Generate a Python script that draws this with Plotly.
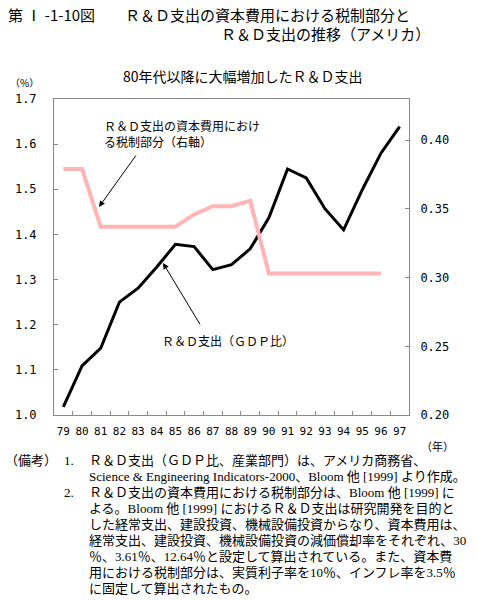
import plotly.graph_objects as go

years = ["79", "80", "81", "82", "83", "84", "85", "86", "87", "88", "89",
         "90", "91", "92", "93", "94", "95", "96", "97"]
rd_gdp = [1.018, 1.109, 1.148, 1.250, 1.281, 1.328, 1.378, 1.373, 1.322, 1.333, 1.368,
          1.437, 1.545, 1.525, 1.457, 1.410, 1.499, 1.580, 1.639]
tax_share = [0.379, 0.379, 0.337, 0.337, 0.337, 0.337, 0.337, 0.346, 0.352, 0.352, 0.356,
             0.303, 0.303, 0.303, 0.303, 0.303, 0.303, 0.303, None]
left_ticks = [1.0, 1.1, 1.2, 1.3, 1.4, 1.5, 1.6, 1.7]
left_labels = ["1.0", "1.1", "1.2", "1.3", "1.4", "1.5", "1.6", "1.7"]
right_ticks = [0.20, 0.25, 0.30, 0.35, 0.40]
right_labels = ["0.20", "0.25", "0.30", "0.35", "0.40"]

title1 = "第 Ⅰ -1-10図　　Ｒ＆Ｄ支出の資本費用における税制部分と"
title2 = "Ｒ＆Ｄ支出の推移（アメリカ）"
subtitle = "80年代以降に大幅増加したＲ＆Ｄ支出"
label_tax = "Ｒ＆Ｄ支出の資本費用におけ<br>る税制部分（右軸）"
label_rd = "Ｒ＆Ｄ支出（ＧＤＰ比）"
notes = [
    "Ｒ＆Ｄ支出（ＧＤＰ比、産業部門）は、アメリカ商務省、",
    "Science & Engineering Indicators-2000、Bloom 他 [1999] より作成。",
    "Ｒ＆Ｄ支出の資本費用における税制部分は、Bloom 他 [1999] に",
    "よる。Bloom 他 [1999] におけるＲ＆Ｄ支出は研究開発を目的と",
    "した経常支出、建設投資、機械設備投資からなり、資本費用は、",
    "経常支出、建設投資、機械設備投資の減価償却率をそれぞれ、30",
    "％、3.61％、12.64％と設定して算出されている。また、資本費",
    "用における税制部分は、実質利子率を10％、インフレ率を3.5％",
    "に固定して算出されたもの。",
]

W, H = 477, 600
L, R, T, B = 54, 409, 99, 415


def px(x):
    return (x - L) / (R - L)


def py(y):
    return (B - y) / (B - T)


GOTH = "Noto Sans CJK JP"
MONO = "DejaVu Sans Mono"
SERIF = "Liberation Serif, Noto Sans CJK JP"

fig = go.Figure()
fig.add_trace(go.Scatter(x=years, y=tax_share, yaxis="y2", mode="lines",
                         line=dict(color="#FFB5B5", width=4), showlegend=False,
                         connectgaps=False))
fig.add_trace(go.Scatter(x=years, y=rd_gdp, mode="lines",
                         line=dict(color="black", width=3), showlegend=False))

ann = []
ann.append(dict(text=title1, x=px(6), y=py(15), xref="paper", yref="paper",
                xanchor="left", yanchor="middle", showarrow=False,
                font=dict(family=GOTH, size=15, color="black")))
ann.append(dict(text=title2, x=px(432), y=py(33), xref="paper", yref="paper",
                xanchor="right", yanchor="middle", showarrow=False,
                font=dict(family=GOTH, size=15, color="black")))
ann.append(dict(text=subtitle, x=px(243), y=py(76), xref="paper", yref="paper",
                xanchor="center", yanchor="middle", showarrow=False,
                font=dict(family=GOTH, size=14, color="black")))
ann.append(dict(text="（%）", x=px(8), y=py(83), xref="paper", yref="paper",
                xanchor="left", yanchor="middle", showarrow=False,
                font=dict(family=GOTH, size=10, color="black")))
ann.append(dict(text="（年）", x=px(419), y=py(446), xref="paper", yref="paper",
                xanchor="left", yanchor="middle", showarrow=False,
                font=dict(family=GOTH, size=11, color="black")))
# series labels
ann.append(dict(text=label_tax, x=px(102), y=py(133), xref="paper", yref="paper",
                xanchor="left", yanchor="middle", align="left", showarrow=False,
                font=dict(family=GOTH, size=12, color="black")))
ann.append(dict(text=label_rd, x=px(160), y=py(340), xref="paper", yref="paper",
                xanchor="left", yanchor="middle", showarrow=False,
                font=dict(family=GOTH, size=12, color="black")))
# arrows (tail offsets in pixels)
ann.append(dict(text="", x=px(99), y=py(207), ax=38, ay=-53,
                xref="paper", yref="paper", axref="pixel", ayref="pixel",
                showarrow=True, arrowhead=2, arrowsize=1.2, arrowwidth=1,
                arrowcolor="black"))
ann.append(dict(text="", x=px(163), y=py(263), ax=38, ay=63,
                xref="paper", yref="paper", axref="pixel", ayref="pixel",
                showarrow=True, arrowhead=2, arrowsize=1.2, arrowwidth=1,
                arrowcolor="black"))
# notes
y0, dy = 461, 15.9
NOTE_SIZE = 13
ann.append(dict(text="（備考）", x=px(3), y=py(y0), xref="paper", yref="paper",
                xanchor="left", yanchor="middle", showarrow=False,
                font=dict(family=SERIF, size=NOTE_SIZE, color="black")))
ann.append(dict(text="1.", x=px(62), y=py(y0), xref="paper", yref="paper",
                xanchor="left", yanchor="middle", showarrow=False,
                font=dict(family=SERIF, size=NOTE_SIZE, color="black")))
ann.append(dict(text="2.", x=px(62), y=py(y0 + 2 * dy), xref="paper", yref="paper",
                xanchor="left", yanchor="middle", showarrow=False,
                font=dict(family=SERIF, size=NOTE_SIZE, color="black")))
for i, line in enumerate(notes):
    ann.append(dict(text=line, x=px(87), y=py(y0 + i * dy), xref="paper", yref="paper",
                    xanchor="left", yanchor="middle", showarrow=False,
                    font=dict(family=SERIF, size=NOTE_SIZE, color="black")))

fig.update_layout(
    width=W, height=H,
    margin=dict(l=L, r=W - R, t=T, b=H - B, pad=0),
    paper_bgcolor="white", plot_bgcolor="white",
    showlegend=False,
    annotations=ann,
    xaxis=dict(type="category", range=[-0.5, 18.5], tickson="boundaries",
               ticks="inside", ticklen=4, tickcolor="#888888", tickangle=0,
               showline=True, linecolor="#888888", linewidth=1, mirror=True,
               showgrid=False, zeroline=False,
               tickfont=dict(family=MONO, size=11, color="black"),
               ticklabelstandoff=6, fixedrange=True),
    yaxis=dict(range=[1.0, 1.7], tickvals=left_ticks, ticktext=left_labels,
               ticks="inside", ticklen=4, tickcolor="#888888",
               showline=True, linecolor="#888888", linewidth=1,
               showgrid=False, zeroline=False,
               tickfont=dict(family=MONO, size=12, color="black"),
               ticklabelstandoff=14),
    yaxis2=dict(range=[0.20, 0.43], tickvals=right_ticks, ticktext=right_labels,
                overlaying="y", side="right",
                ticks="inside", ticklen=4, tickcolor="#888888",
                showline=True, linecolor="#888888", linewidth=1,
                showgrid=False, zeroline=False,
                tickfont=dict(family=MONO, size=12, color="black"),
                ticklabelstandoff=8),
)

fig.write_html("out.html")
